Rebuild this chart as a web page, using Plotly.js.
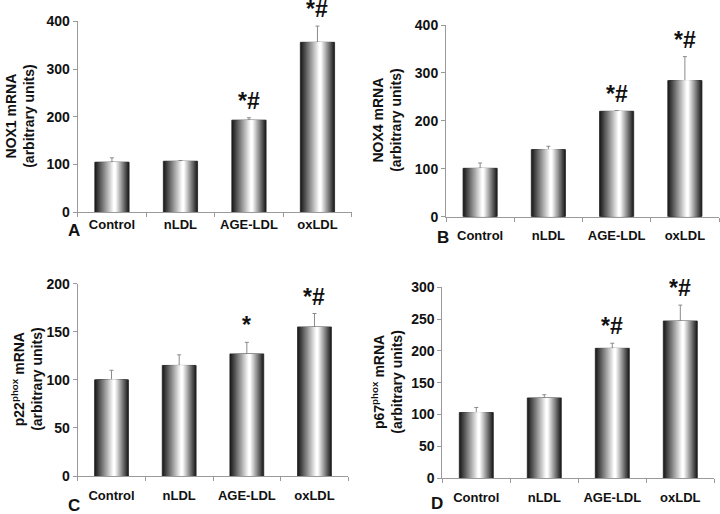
<!DOCTYPE html>
<html>
<head>
<meta charset="utf-8">
<script src="https://cdn.plot.ly/plotly-3.0.1.min.js"></script>
<style>html,body{margin:0;padding:0;background:#fff;}#chart{width:720px;height:514px;}</style>
</head>
<body>
<div id="chart"></div>
<script>
// ---- data ----
const categories = ['Control', 'nLDL', 'AGE-LDL', 'oxLDL'];

const nox1 = [105, 107, 193, 356];
const nox1Err = [9, 1.5, 5, 34];
const nox1Marks = ['', '', '*#', '*#'];

const nox4 = [101, 140, 220, 284];
const nox4Err = [11, 7, 1.5, 50];
const nox4Marks = ['', '', '*#', '*#'];

const p22 = [100, 115, 127, 155];
const p22Err = [10, 11, 12, 14];
const p22Marks = ['', '', '*', '*#'];

const p67 = [103, 126, 204, 247];
const p67Err = [8, 5, 8, 25];
const p67Marks = ['', '', '*#', '*#'];

const panels = [
  {vals: nox1, err: nox1Err, marks: nox1Marks, title: 'NOX1 mRNA<br>(arbitrary units)', letter: 'A', range: [0, 400], dtick: 100,
   px: [77.7, 351.7], py: [21.3, 212.3], titleX: 20, letterPos: [74, 231], standoff: 0},
  {vals: nox4, err: nox4Err, marks: nox4Marks, title: 'NOX4 mRNA<br>(arbitrary units)', letter: 'B', range: [0, 400], dtick: 100,
   px: [446, 719], py: [25, 216.7], titleX: 387, letterPos: [443, 237], standoff: 7},
  {vals: p22, err: p22Err, marks: p22Marks, title: 'p22<sup>phox</sup> mRNA<br>(arbitrary units)', letter: 'C', range: [0, 200], dtick: 50,
   px: [77.7, 348.3], py: [283.7, 476], titleX: 27, letterPos: [74, 505], standoff: 7},
  {vals: p67, err: p67Err, marks: p67Marks, title: 'p67<sup>phox</sup> mRNA<br>(arbitrary units)', letter: 'D', range: [0, 300], dtick: 50,
   px: [442.3, 714.3], py: [287.3, 478], titleX: 387, letterPos: [437, 503], standoff: 7}
];

const W = 720, H = 514;
const FONT = 'Arial, "Liberation Sans", sans-serif';
const BAR_W = 0.5;
const N_LAYERS = 20;
const PEAK = 0.58;

const traces = [];
const layout = {
  width: W, height: H,
  margin: {l: 0, r: 0, t: 0, b: 0},
  paper_bgcolor: '#fff', plot_bgcolor: 'rgba(0,0,0,0)',
  showlegend: false,
  barmode: 'overlay',
  font: {family: FONT, color: '#111'},
  annotations: []
};

panels.forEach((p, k) => {
  const xa = k === 0 ? 'x' : 'x' + (k + 1);
  const ya = k === 0 ? 'y' : 'y' + (k + 1);
  const xKey = k === 0 ? 'xaxis' : 'xaxis' + (k + 1);
  const yKey = k === 0 ? 'yaxis' : 'yaxis' + (k + 1);

  for (let i = 0; i < N_LAYERS; i++) {
    const t = i / N_LAYERS;
    const left = PEAK * t;
    const right = 1 - (1 - PEAK) * t;
    const shade = Math.min(255, Math.round(28 + 245 * t));
    const tr = {
      type: 'bar', x: categories, y: p.vals, xaxis: xa, yaxis: ya,
      width: BAR_W * (right - left),
      offset: -BAR_W / 2 + BAR_W * left,
      marker: {color: `rgb(${shade},${shade},${shade})`, line: {width: 0}},
      hoverinfo: 'skip'
    };
    if (i === 0) {
      tr.marker.line = {width: 0.8, color: '#222'};
      tr.error_y = {type: 'data', symmetric: false, array: p.err, arrayminus: p.err.map(() => 0),
                    color: '#8a8a8a', thickness: 1, width: 2};
    }
    traces.push(tr);
  }

  layout[xKey] = {
    domain: [p.px[0] / W, p.px[1] / W],
    anchor: ya,
    type: 'category',
    showline: true, linecolor: '#9a9a9a', linewidth: 1,
    ticks: 'outside', tickson: 'boundaries', ticklen: 4, tickcolor: '#9a9a9a',
    showgrid: false, zeroline: false,
    tickangle: 0,
    tickfont: {family: FONT, size: 13, color: '#111', weight: 'bold'},
    ticklabelstandoff: p.standoff,
    fixedrange: true
  };
  layout[yKey] = {
    domain: [1 - p.py[1] / H, 1 - p.py[0] / H],
    anchor: xa,
    range: p.range, dtick: p.dtick, tick0: 0,
    showline: true, linecolor: '#9a9a9a', linewidth: 1,
    ticks: 'outside', ticklen: 4, tickcolor: '#9a9a9a',
    showgrid: false, zeroline: false,
    tickfont: {family: FONT, size: 14, color: '#111', weight: 'bold'},
    fixedrange: true
  };

  // y-axis title
  layout.annotations.push({
    xref: 'paper', yref: 'paper',
    x: p.titleX / W, y: 1 - ((p.py[0] + p.py[1]) / 2) / H,
    text: p.title, textangle: -90, showarrow: false,
    xanchor: 'center', yanchor: 'middle',
    font: {family: FONT, size: 14, color: '#111', weight: 'bold'}
  });
  // panel letter
  layout.annotations.push({
    xref: 'paper', yref: 'paper',
    x: p.letterPos[0] / W, y: 1 - p.letterPos[1] / H,
    text: p.letter, showarrow: false, xanchor: 'center', yanchor: 'middle',
    font: {family: FONT, size: 17, color: '#111', weight: 'bold'}
  });
  // significance marks
  categories.forEach((c, j) => {
    if (!p.marks[j]) return;
    layout.annotations.push({
      xref: xa, yref: ya, x: c, y: p.vals[j] + p.err[j],
      text: p.marks[j], showarrow: false, xanchor: 'center', yanchor: 'bottom',
      yshift: 2,
      font: {family: FONT, size: 23, color: '#111', weight: 'bold'}
    });
  });
});

Plotly.newPlot('chart', traces, layout, {staticPlot: true, displayModeBar: false});
</script>
</body>
</html>
